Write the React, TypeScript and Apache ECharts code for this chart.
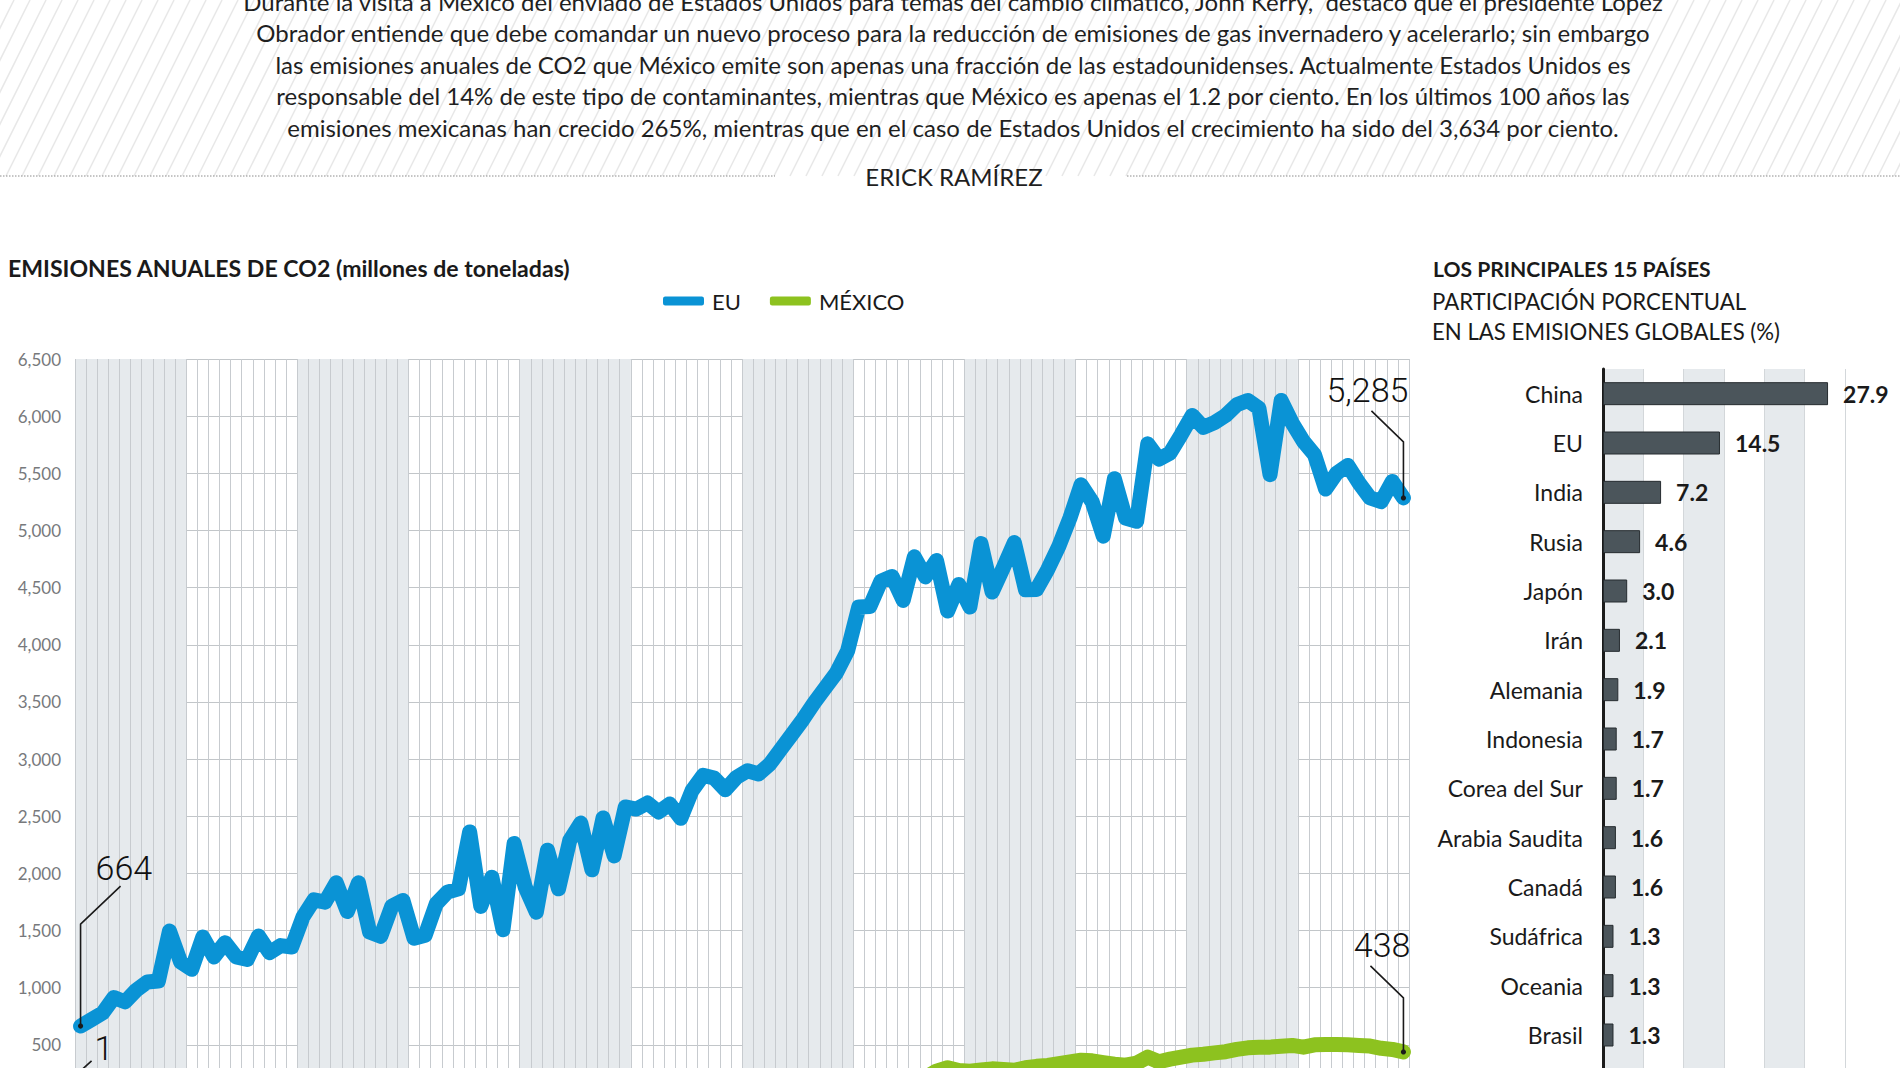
import React, { useEffect, useRef } from 'react';
import * as echarts from 'echarts';

// ---------- DATA ----------
const START_YEAR = 1900;

const EU_EMISSIONS = [
  664, 722, 780, 914, 876, 978, 1050, 1058, 1496, 1225,
  1161, 1443, 1269, 1394, 1269, 1248, 1452, 1306, 1368, 1356,
  1618, 1769, 1749, 1918, 1667, 1918, 1487, 1449, 1714, 1763,
  1432, 1458, 1734, 1836, 1865, 2363, 1711, 1967, 1507, 2261,
  1880, 1661, 2203, 1865, 2287, 2441, 2031, 2485, 2153, 2581,
  2563, 2616, 2537, 2607, 2482, 2723, 2857, 2834, 2732, 2840,
  2898, 2870, 2956, 3087, 3218, 3349, 3494, 3625, 3756, 3946,
  4330, 4335, 4557, 4597, 4388, 4769, 4594, 4737, 4295, 4527,
  4330, 4885, 4461, 4673, 4894, 4481, 4484, 4658, 4862, 5109,
  5400, 5250, 4950, 5453, 5109, 5080, 5758, 5624, 5677, 5837,
  6006, 5901, 5944, 6006, 6099, 6137, 6070, 5488, 6137, 5939,
  5779, 5662, 5362, 5502, 5569, 5415, 5284, 5252, 5429, 5285,
];

const MEXICO_EMISSIONS = [
  1, 2, 2, 3, 3, 4, 4, 5, 5, 6,
  6, 5, 5, 4, 4, 4, 5, 5, 6, 7,
  8, 9, 10, 11, 11, 12, 13, 13, 14, 14,
  13, 12, 12, 13, 14, 15, 16, 17, 17, 18,
  19, 20, 21, 23, 24, 26, 28, 30, 32, 33,
  36, 39, 42, 44, 47, 51, 55, 58, 61, 64,
  68, 72, 76, 80, 86, 92, 98, 104, 111, 118,
  126, 134, 145, 156, 168, 180, 215, 270, 300, 275,
  270, 280, 290, 285, 278, 300, 312, 320, 335, 350,
  365, 360, 345, 330, 322, 340, 393, 352, 375, 393,
  410, 418, 430, 440, 460, 474, 478, 480, 488, 495,
  480, 500, 503, 502, 500, 495, 489, 470, 460, 438,
];

const YEARS = EU_EMISSIONS.map((_, i) => String(START_YEAR + i));

const Y_MIN = 0;
const Y_MAX = 6500;
const Y_STEP = 500;

const COUNTRIES = [
  'China', 'EU', 'India', 'Rusia', 'Japón', 'Irán', 'Alemania', 'Indonesia',
  'Corea del Sur', 'Arabia Saudita', 'Canadá', 'Sudáfrica', 'Oceania', 'Brasil', 'México',
];
const SHARES = [27.9, 14.5, 7.2, 4.6, 3.0, 2.1, 1.9, 1.7, 1.7, 1.6, 1.6, 1.3, 1.3, 1.3, 1.2];

const SHARE_MIN = 0;
const SHARE_MAX = 30;
const SHARE_STEP = 5;

const PARAGRAPH = [
  'Durante la visita a México del enviado de Estados Unidos para temas del cambio climático, John Kerry,  destacó que el presidente López',
  'Obrador entiende que debe comandar un nuevo proceso para la reducción de emisiones de gas invernadero y acelerarlo; sin embargo',
  'las emisiones anuales de CO2 que México emite son apenas una fracción de las estadounidenses. Actualmente Estados Unidos es',
  'responsable del 14% de este tipo de contaminantes, mientras que México es apenas el 1.2 por ciento. En los últimos 100 años las',
  'emisiones mexicanas han crecido 265%, mientras que en el caso de Estados Unidos el crecimiento ha sido del 3,634 por ciento.',
];
const AUTHOR = 'ERICK RAMÍREZ';
const LEFT_TITLE = 'EMISIONES ANUALES DE CO2 (millones de toneladas)';
const RIGHT_TITLE = 'LOS PRINCIPALES 15 PAÍSES';
const RIGHT_SUB = ['PARTICIPACIÓN PORCENTUAL', 'EN LAS EMISIONES GLOBALES (%)'];

// ---------- STYLE ----------
const FONT = 'Lato, "Noto Sans", sans-serif';
const BLUE = '#0a93d5';
const GREEN = '#8dc21f';
const INK = '#1a1a1a';
const SHADE = '#e6eaed';
const CANVAS_W = 1900;
const CANVAS_H = 1120; // taller than the viewport: the plot continues below the visible page

const fmt = (v: number) => v.toLocaleString('en-US');

function textEl(text: string, x: number, y: number, size: number, opts: any = {}) {
  return {
    type: 'text',
    x,
    y,
    z: opts.z ?? 50,
    silent: true,
    style: {
      text,
      fill: opts.color ?? INK,
      font: `${opts.weight ?? 'normal'} ${size}px ${opts.family ?? FONT}`,
      textAlign: opts.align ?? 'left',
      textVerticalAlign: 'middle',
      align: opts.align ?? 'left',
      verticalAlign: 'middle',
    },
  };
}

export default function App() {
  const ref = useRef<HTMLDivElement>(null);

  useEffect(() => {
    document.body.style.margin = '0';
    document.body.style.overflow = 'hidden';
    document.documentElement.style.overflow = 'hidden';
    if (!ref.current) return;
    const chart = echarts.init(ref.current, null, { renderer: 'svg', width: CANVAS_W, height: CANVAS_H });

    const staticGraphics: any[] = [];
    // hatch background at the top
    for (let k = 0; k < 130; k++) {
      const x0 = -90 + k * 16;
      staticGraphics.push({
        type: 'line',
        z: 0,
        silent: true,
        shape: { x1: x0, y1: 176, x2: x0 + 88, y2: 0 },
        style: { stroke: '#e8e8e8', lineWidth: 1.5 },
      });
    }
    // dotted separators
    staticGraphics.push({
      type: 'line', z: 1, silent: true,
      shape: { x1: 0, y1: 176, x2: 775, y2: 176 },
      style: { stroke: '#8c8c8c', lineWidth: 1, lineDash: [1.5, 1.5] },
    });
    staticGraphics.push({
      type: 'line', z: 1, silent: true,
      shape: { x1: 1127, y1: 176, x2: 1900, y2: 176 },
      style: { stroke: '#8c8c8c', lineWidth: 1, lineDash: [1.5, 1.5] },
    });
    // paragraph
    PARAGRAPH.forEach((line, i) => {
      staticGraphics.push(textEl(line, 953, 1 + i * 31.6, 24, { align: 'center', color: '#1f1f1f' }));
    });
    staticGraphics.push(textEl(AUTHOR, 954, 176, 24, { align: 'center', color: '#1f1f1f' }));
    // titles
    staticGraphics.push(textEl(LEFT_TITLE, 8, 267.5, 23.1, { weight: 'bold' }));
    staticGraphics.push(textEl(RIGHT_TITLE, 1433, 268, 21.1, { weight: 'bold' }));
    staticGraphics.push(textEl(RIGHT_SUB[0], 1432, 301, 22.2, {}));
    staticGraphics.push(textEl(RIGHT_SUB[1], 1432, 331, 22.2, {}));

    const option: any = {
      animation: false,
      backgroundColor: '#ffffff',
      textStyle: { fontFamily: FONT },
      legend: {
        data: ['EU', 'MÉXICO'],
        left: 658,
        top: 285,
        itemWidth: 41,
        itemHeight: 9,
        itemGap: 29,
        icon: 'roundRect',
        selectedMode: false,
        textStyle: { fontSize: 22, color: INK, fontFamily: FONT, padding: [0, 0, 0, 3] },
      },
      grid: [
        { left: 75, top: 359, width: 1334, height: 743 },
        { left: 1603, top: 369, width: 242, height: 740 },
      ],
      xAxis: [
        {
          type: 'category',
          gridIndex: 0,
          data: YEARS,
          boundaryGap: true,
          axisLine: { show: false },
          axisTick: { show: false },
          axisLabel: { show: false },
          splitLine: { show: true, interval: 0, lineStyle: { color: '#c7cbcf', width: 1 } },
          splitArea: { show: true, interval: 9, areaStyle: { color: [SHADE, 'rgba(255,255,255,0)'] } },
        },
        {
          type: 'value',
          gridIndex: 1,
          min: SHARE_MIN,
          max: SHARE_MAX,
          interval: SHARE_STEP,
          axisLine: { show: false },
          axisTick: { show: false },
          axisLabel: { show: false },
          splitLine: { show: true, lineStyle: { color: '#d3d7da', width: 1 } },
          splitArea: { show: true, areaStyle: { color: [SHADE, '#ffffff'] } },
        },
      ],
      yAxis: [
        {
          type: 'value',
          gridIndex: 0,
          min: Y_MIN,
          max: Y_MAX,
          interval: Y_STEP,
          axisLine: { show: false },
          axisTick: { show: false },
          axisLabel: { formatter: (v: number) => fmt(v), fontSize: 17, color: '#77797c', margin: 14, fontFamily: FONT },
          splitLine: { show: true, lineStyle: { color: '#c2c6c9', width: 1.2 } },
        },
        {
          type: 'category',
          gridIndex: 1,
          data: COUNTRIES,
          inverse: true,
          axisLine: { show: true, onZero: false, lineStyle: { color: '#1b1b1b', width: 3 } },
          axisTick: { show: false },
          axisLabel: { fontSize: 23, color: INK, margin: 20, fontFamily: FONT },
          splitLine: { show: true, lineStyle: { color: '#d3d7da', width: 1 } },
        },
      ],
      series: [
        {
          name: 'EU',
          type: 'line',
          xAxisIndex: 0,
          yAxisIndex: 0,
          data: EU_EMISSIONS,
          symbol: 'none',
          showSymbol: false,
          z: 3,
          itemStyle: { color: BLUE },
          lineStyle: { color: BLUE, width: 15, cap: 'round', join: 'round' },
        },
        {
          name: 'MÉXICO',
          type: 'line',
          xAxisIndex: 0,
          yAxisIndex: 0,
          data: MEXICO_EMISSIONS,
          symbol: 'none',
          showSymbol: false,
          z: 3,
          itemStyle: { color: GREEN },
          lineStyle: { color: GREEN, width: 15, cap: 'round', join: 'round' },
        },
        {
          type: 'bar',
          xAxisIndex: 1,
          yAxisIndex: 1,
          data: SHARES,
          barWidth: 23,
          z: 3,
          itemStyle: { color: '#4b555b', borderColor: '#262c30', borderWidth: 1 },
          label: {
            show: true,
            position: 'right',
            distance: 15,
            fontSize: 23,
            fontWeight: 'bold',
            color: INK,
            fontFamily: FONT,
            formatter: (p: any) => Number(p.value).toFixed(1),
          },
        },
      ],
      graphic: { elements: staticGraphics },
    };

    chart.setOption(option);

    // annotations tied to data through the chart's own scales
    const toPx = (i: number, v: number) => chart.convertToPixel({ gridIndex: 0 } as any, [i, v]) as number[];
    const last = EU_EMISSIONS.length - 1;
    const notes = [
      { values: EU_EMISSIONS, i: 0, v: 102, dx: 40, dy: -38, tx: 15, ty: -158, align: 'left' },
      { values: MEXICO_EMISSIONS, i: 0, v: 31, dx: 11, dy: -10, tx: 14, ty: -54, align: 'left' },
      { values: EU_EMISSIONS, i: last, v: 56, dx: -32, dy: -31, tx: 5, ty: -108, align: 'right' },
      { values: MEXICO_EMISSIONS, i: last, v: 54, dx: -33, dy: -32, tx: 7, ty: -107, align: 'right' },
    ];
    const noteEls: any[] = [];
    notes.forEach((n) => {
      const [px, py] = toPx(n.i, n.values[n.i]);
      noteEls.push({
        type: 'polyline',
        z: 100,
        silent: true,
        shape: { points: [[px, py], [px, py - n.v], [px + n.dx, py - n.v + n.dy]] },
        style: { stroke: INK, lineWidth: 1.6, fill: 'none' },
      });
      noteEls.push({
        type: 'circle',
        z: 101,
        silent: true,
        shape: { cx: px, cy: py, r: 2.6 },
        style: { fill: INK },
      });
      noteEls.push(
        textEl(fmt(n.values[n.i]), px + n.tx, py + n.ty, 34, {
          align: n.align,
          family: 'Roboto, Lato, sans-serif',
          weight: 300,
          color: '#111111',
          z: 102,
        })
      );
    });

    chart.setOption({ graphic: { elements: staticGraphics.concat(noteEls) } }, { replaceMerge: ['graphic'] } as any);

    return () => {
      chart.dispose();
    };
  }, []);

  return (
    <div
      ref={ref}
      style={{ position: 'absolute', left: 0, top: 0, width: CANVAS_W, height: CANVAS_H, background: '#fff' }}
    />
  );
}
